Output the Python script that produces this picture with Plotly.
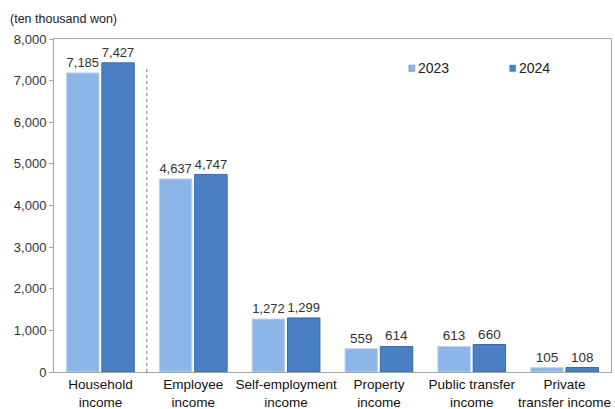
import plotly.graph_objects as go

categories = ["Household<br>income", "Employee<br>income", "Self-employment<br>income",
              "Property<br>income", "Public transfer<br>income", "Private<br>transfer income"]
values_2023 = [7185, 4637, 1272, 559, 613, 105]
values_2024 = [7427, 4747, 1299, 614, 660, 108]
series_names = ["2023", "2024"]
y_ticks = [0, 1000, 2000, 3000, 4000, 5000, 6000, 7000, 8000]

c23 = "#8DB6E8"
c24 = "#4A7FC4"
font = "Liberation Sans, Arial, sans-serif"

fig = go.Figure()
for name, vals, col, line in [(series_names[0], values_2023, c23, "#B8D2F0"),
                              (series_names[1], values_2024, c24, "#3A6AAA")]:
    fig.add_trace(go.Bar(
        x=categories, y=vals, name=name,
        marker=dict(color=col, line=dict(color=line, width=1)),
        text=[f"{v:,}" for v in vals], textposition="outside",
        textfont=dict(size=13.5, color="#333333", family=font),
        cliponaxis=False, showlegend=False,
    ))

fig.add_shape(type="line", xref="x", yref="y", x0=0.5, x1=0.5, y0=0, y1=7330,
              line=dict(color="#777777", width=1, dash="dot"))

# legend drawn manually
for i, (name, col) in enumerate(zip(series_names, [c23, c24])):
    x0 = 0.637 + i * 0.181
    fig.add_shape(type="rect", xref="paper", yref="paper",
                  x0=x0, x1=x0 + 0.011, y0=0.902, y1=0.922,
                  fillcolor=col, line=dict(color="#6A8FC0", width=0.5))
    fig.add_annotation(xref="paper", yref="paper", x=x0 + 0.013, y=0.912,
                       text=name, showarrow=False, xanchor="left", yanchor="middle",
                       font=dict(size=14, color="#222222", family=font))

fig.add_annotation(xref="paper", yref="paper", x=-0.083, y=1.06, text="(ten thousand won)",
                   showarrow=False, xanchor="left", yanchor="middle",
                   font=dict(size=12.5, color="#222222", family=font))

fig.update_layout(
    width=615, height=409,
    margin=dict(l=54, r=4, t=39, b=37),
    plot_bgcolor="white", paper_bgcolor="white",
    barmode="group", bargap=0.24, bargroupgap=0.08,
    font=dict(family=font, size=13, color="#222222"),
    xaxis=dict(showline=True, linecolor="#A6A6A6", mirror=True, ticks="",
               automargin=False, tickangle=0, ticklabelstandoff=0,
               tickfont=dict(size=13.5, color="#111111")),
    yaxis=dict(range=[0, 8000], tickvals=y_ticks, tickformat=",",
               showline=True, linecolor="#A6A6A6", mirror=True, showgrid=False,
               ticks="outside", ticklen=4, tickcolor="#A6A6A6", zeroline=False,
               automargin=False, tickfont=dict(size=13, color="#333333")),
)

fig.write_html("out.html")
